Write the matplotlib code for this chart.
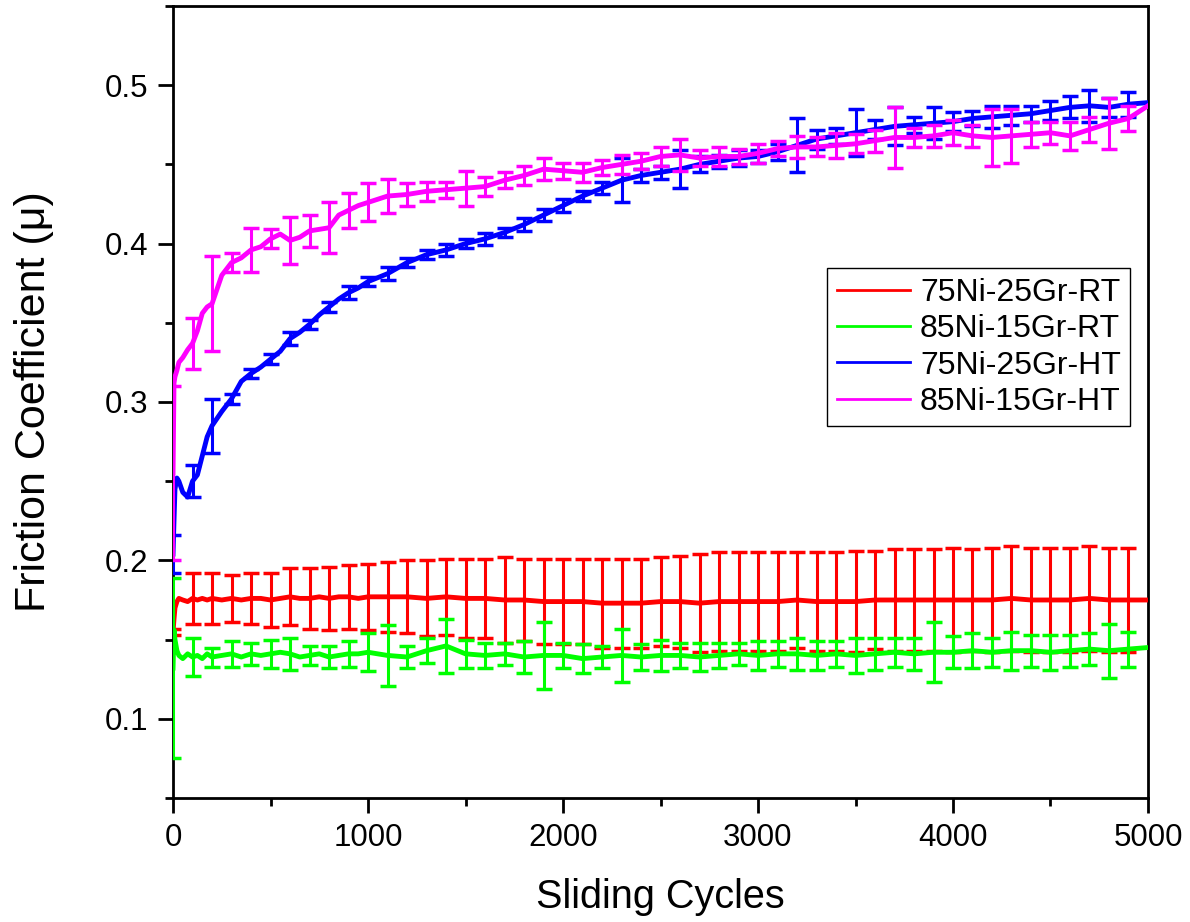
import numpy as np
import matplotlib
matplotlib.use("Agg")
import matplotlib.pyplot as plt
from matplotlib.ticker import MultipleLocator

plt.rcParams['font.family'] = ['Liberation Sans', 'DejaVu Sans']

# sliding cycles at which the friction coefficient is listed
cycles = [0, 5, 10, 20, 30, 50, 75, 100, 125, 150, 175, 200, 250, 300, 350, 400, 450,
          500, 550, 600, 650, 700, 750, 800, 850, 900, 950, 1000, 1100, 1200, 1300, 1400,
          1500, 1600, 1700, 1800, 1900, 2000, 2100, 2200, 2300, 2400, 2500, 2600, 2700,
          2800, 2900, 3000, 3100, 3200, 3300, 3400, 3500, 3600, 3700, 3800, 3900, 4000,
          4100, 4200, 4300, 4400, 4500, 4600, 4700, 4800, 4900, 5000]

mu_75_rt = [0.155, 0.163, 0.170, 0.174, 0.176, 0.175, 0.174, 0.176, 0.175, 0.176, 0.175,
            0.176, 0.175, 0.176, 0.175, 0.176, 0.176, 0.175, 0.176, 0.177, 0.176, 0.176,
            0.177, 0.176, 0.177, 0.177, 0.176, 0.177, 0.177, 0.177, 0.176, 0.177, 0.176,
            0.176, 0.175, 0.175, 0.174, 0.174, 0.174, 0.173, 0.173, 0.173, 0.174, 0.174,
            0.173, 0.174, 0.174, 0.174, 0.174, 0.175, 0.174, 0.174, 0.174, 0.175, 0.175,
            0.175, 0.175, 0.175, 0.175, 0.175, 0.176, 0.175, 0.175, 0.175, 0.176, 0.175,
            0.175, 0.175]

mu_85_rt = [0.132, 0.156, 0.150, 0.143, 0.140, 0.138, 0.141, 0.139, 0.140, 0.138, 0.141,
            0.139, 0.140, 0.141, 0.139, 0.141, 0.140, 0.141, 0.142, 0.141, 0.139, 0.140,
            0.141, 0.139, 0.140, 0.141, 0.141, 0.142, 0.140, 0.139, 0.143, 0.146, 0.141,
            0.140, 0.141, 0.139, 0.140, 0.140, 0.138, 0.139, 0.140, 0.139, 0.140, 0.140,
            0.139, 0.140, 0.141, 0.140, 0.141, 0.141, 0.140, 0.141, 0.140, 0.141, 0.142,
            0.141, 0.142, 0.142, 0.143, 0.142, 0.143, 0.143, 0.142, 0.143, 0.144, 0.143,
            0.144, 0.145]

mu_75_ht = [0.204, 0.225, 0.245, 0.252, 0.250, 0.243, 0.240, 0.250, 0.254, 0.266, 0.278,
            0.285, 0.294, 0.302, 0.313, 0.318, 0.322, 0.327, 0.332, 0.340, 0.344, 0.349,
            0.355, 0.360, 0.365, 0.369, 0.372, 0.376, 0.381, 0.388, 0.393, 0.396, 0.400,
            0.403, 0.407, 0.412, 0.418, 0.424, 0.430, 0.435, 0.440, 0.443, 0.445, 0.447,
            0.450, 0.452, 0.454, 0.455, 0.458, 0.462, 0.466, 0.468, 0.470, 0.472, 0.474,
            0.475, 0.476, 0.477, 0.479, 0.480, 0.481, 0.482, 0.484, 0.486, 0.487, 0.486,
            0.488, 0.489]

mu_85_ht = [0.255, 0.312, 0.316, 0.320, 0.325, 0.328, 0.333, 0.337, 0.345, 0.356, 0.360,
            0.362, 0.380, 0.388, 0.391, 0.396, 0.398, 0.403, 0.406, 0.402, 0.404, 0.408,
            0.409, 0.410, 0.418, 0.421, 0.424, 0.426, 0.430, 0.431, 0.433, 0.434, 0.435,
            0.436, 0.440, 0.443, 0.447, 0.446, 0.445, 0.448, 0.450, 0.452, 0.455, 0.456,
            0.454, 0.455, 0.455, 0.457, 0.460, 0.461, 0.461, 0.462, 0.463, 0.465, 0.467,
            0.467, 0.468, 0.470, 0.468, 0.467, 0.468, 0.469, 0.470, 0.468, 0.472, 0.476,
            0.479, 0.487]

# error bars every 100 cycles
err_cycles = list(range(0, 5000, 100))

err_75_rt = [0.002, 0.016, 0.016, 0.015, 0.016, 0.017, 0.018, 0.019, 0.020, 0.020,
             0.021, 0.022, 0.023, 0.024, 0.024, 0.025, 0.025, 0.027, 0.026, 0.027,
             0.027, 0.027, 0.028, 0.028, 0.028, 0.028, 0.029, 0.031, 0.031, 0.031,
             0.031, 0.031, 0.030, 0.031, 0.031, 0.032, 0.031, 0.032, 0.032, 0.032,
             0.033, 0.032, 0.033, 0.033, 0.033, 0.033, 0.033, 0.033, 0.033, 0.033]

err_85_rt = [0.057, 0.012, 0.006, 0.008, 0.007, 0.009, 0.010, 0.006, 0.007, 0.008,
             0.012, 0.019, 0.007, 0.008, 0.017, 0.009, 0.008, 0.007, 0.010, 0.021,
             0.008, 0.009, 0.007, 0.017, 0.008, 0.010, 0.008, 0.009, 0.008, 0.007,
             0.009, 0.008, 0.010, 0.009, 0.008, 0.011, 0.010, 0.009, 0.010, 0.019,
             0.010, 0.011, 0.009, 0.012, 0.010, 0.011, 0.010, 0.010, 0.017, 0.011]

err_75_ht = [0.012, 0.010, 0.017, 0.003, 0.003, 0.003, 0.004, 0.003, 0.003, 0.004,
             0.003, 0.004, 0.003, 0.003, 0.004, 0.003, 0.004, 0.003, 0.004, 0.004,
             0.004, 0.003, 0.004, 0.014, 0.004, 0.004, 0.012, 0.005, 0.004, 0.005,
             0.004, 0.005, 0.017, 0.006, 0.005, 0.015, 0.006, 0.012, 0.005, 0.010,
             0.006, 0.005, 0.007, 0.006, 0.005, 0.006, 0.007, 0.010, 0.006, 0.008]

err_85_ht = [0.055, 0.016, 0.030, 0.006, 0.014, 0.006, 0.015, 0.010, 0.016, 0.011,
             0.012, 0.011, 0.007, 0.006, 0.005, 0.011, 0.006, 0.005, 0.006, 0.007,
             0.005, 0.006, 0.005, 0.006, 0.005, 0.006, 0.010, 0.005, 0.006, 0.005,
             0.006, 0.005, 0.007, 0.006, 0.008, 0.006, 0.007, 0.019, 0.006, 0.007,
             0.008, 0.007, 0.018, 0.017, 0.008, 0.007, 0.009, 0.008, 0.016, 0.008]

labels = ['75Ni-25Gr-RT', '85Ni-15Gr-RT', '75Ni-25Gr-HT', '85Ni-15Gr-HT']
colors = ['#ff0000', '#00ff00', '#0000ff', '#ff00ff']
series = [mu_75_rt, mu_85_rt, mu_75_ht, mu_85_ht]
errors = [err_75_rt, err_85_rt, err_75_ht, err_85_ht]

fig = plt.figure(figsize=(11.9, 9.22), dpi=100)
ax = fig.add_axes([0.1454, 0.1345, 0.8193, 0.859])

idx = [cycles.index(c) for c in err_cycles]
for mu, err, col, lab in zip(series, errors, colors, labels):
    mu = np.array(mu)
    ax.plot(cycles, mu, color=col, lw=3.5, label=lab, zorder=3)
    ax.errorbar(err_cycles, mu[idx], yerr=err, fmt='none', ecolor=col,
                elinewidth=2.2, capsize=6, capthick=2.5, zorder=3)

ax.set_xlim(0, 5000)
ax.set_ylim(0.05, 0.55)
ax.xaxis.set_major_locator(MultipleLocator(1000))
ax.xaxis.set_minor_locator(MultipleLocator(500))
ax.yaxis.set_minor_locator(MultipleLocator(0.05))
ax.set_yticks([0.1, 0.2, 0.3, 0.4, 0.5])
ax.set_yticklabels(['0.1', '0.2', '0.3', '0.4', '0.5'])

ax.tick_params(which='major', length=11, width=2, direction='out', labelsize=22.5, pad=7)
ax.tick_params(which='minor', length=6, width=2, direction='out')
ax.tick_params(top=False, right=False, which='both')
for sp in ax.spines.values():
    sp.set_linewidth(2)

ax.set_xlabel('Sliding Cycles', fontsize=28.5, labelpad=18)
ax.set_ylabel('Friction Coefficient (\u03bc)', fontsize=31, labelpad=36)

leg = ax.legend(loc='upper right', bbox_to_anchor=(0.982, 0.669), fontsize=23,
                frameon=True, fancybox=False, framealpha=1, edgecolor='black',
                handlelength=2.3, handletextpad=0.3, labelspacing=0.2,
                borderpad=0.3, borderaxespad=0)
leg.get_frame().set_linewidth(1)
for line in leg.get_lines():
    line.set_linewidth(2)

fig.savefig('out.png', dpi=100)
